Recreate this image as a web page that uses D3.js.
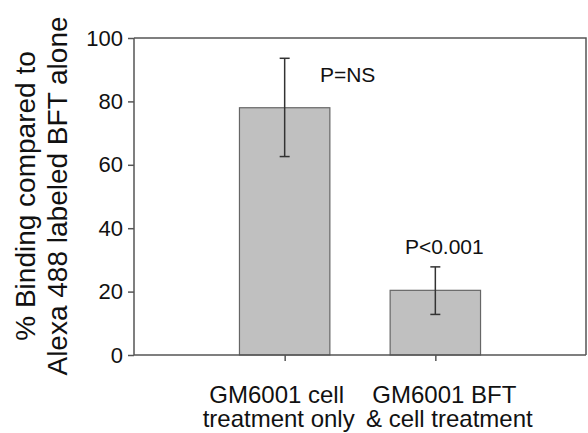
<!DOCTYPE html>
<html>
<head>
<meta charset="utf-8">
<script src="https://cdn.jsdelivr.net/npm/d3@7"></script>
<style>
body { margin: 0; background: #fff; }
text { font-family: "Liberation Sans", Arial, sans-serif; fill: #111; }
</style>
</head>
<body>
<script>
var w = 588, h = 433;
var margin = { top: 38, right: 2, bottom: 78, left: 134 };

// data
var categories = ['GM6001 cell|treatment only', 'GM6001 BFT|& cell treatment'];
var means = [78, 20.4];
var errHigh = [93.6, 27.8];
var errLow = [62.6, 12.8];
var pLabels = ['P=NS', 'P<0.001'];
var pLabelY = [86, 32];
var yTicks = [0, 20, 40, 60, 80, 100];

var svg = d3.select('body').append('svg')
    .attr('width', w)
    .attr('height', h);

var g = svg.append('g')
    .attr('transform', 'translate(' + margin.left + ',' + margin.top + ')');

var pw = w - margin.left - margin.right;
var ph = h - margin.top - margin.bottom;

var xScale = d3.scalePoint()
    .domain(categories)
    .range([0, pw])
    .padding(1);

var yScale = d3.scaleLinear()
    .domain([0, 100])
    .range([ph, 0]);

var barW = xScale.step() * 0.6;

// frame top and right
g.append('path')
    .attr('d', 'M0,0H' + pw + 'V' + ph)
    .attr('fill', 'none')
    .attr('stroke', '#555')
    .attr('stroke-width', 1.5);

// bars
g.selectAll('rect.bar')
    .data(categories)
    .enter()
    .append('rect')
    .attr('class', 'bar')
    .attr('x', function (d) { return xScale(d) - barW / 2; })
    .attr('y', function (d, i) { return yScale(means[i]); })
    .attr('width', barW)
    .attr('height', function (d, i) { return ph - yScale(means[i]); })
    .attr('fill', '#c0c0c0')
    .attr('stroke', '#666')
    .attr('stroke-width', 1.2);

// error bars
var eb = g.selectAll('g.err')
    .data(categories)
    .enter()
    .append('g')
    .attr('class', 'err')
    .attr('stroke', '#333')
    .attr('stroke-width', 1.5);

eb.append('line')
    .attr('x1', function (d) { return xScale(d); })
    .attr('x2', function (d) { return xScale(d); })
    .attr('y1', function (d, i) { return yScale(errHigh[i]); })
    .attr('y2', function (d, i) { return yScale(errLow[i]); });
eb.append('line')
    .attr('x1', function (d) { return xScale(d) - 5; })
    .attr('x2', function (d) { return xScale(d) + 5; })
    .attr('y1', function (d, i) { return yScale(errHigh[i]); })
    .attr('y2', function (d, i) { return yScale(errHigh[i]); });
eb.append('line')
    .attr('x1', function (d) { return xScale(d) - 5; })
    .attr('x2', function (d) { return xScale(d) + 5; })
    .attr('y1', function (d, i) { return yScale(errLow[i]); })
    .attr('y2', function (d, i) { return yScale(errLow[i]); });

// p labels
g.selectAll('text.p')
    .data(pLabels)
    .enter()
    .append('text')
    .attr('class', 'p')
    .attr('x', function (d, i) { return xScale(categories[i]) + (i === 0 ? 63 : 9); })
    .attr('y', function (d, i) { return yScale(pLabelY[i]); })
    .attr('text-anchor', 'middle')
    .style('font-size', '21px')
    .text(function (d) { return d; });

// Y-axis
var yAxis = d3.axisLeft(yScale)
    .tickValues(yTicks)
    .tickSize(6)
    .tickPadding(5);

var ya = g.append('g').call(yAxis);
ya.selectAll('path, line').attr('stroke', '#555').attr('stroke-width', 1.5);
ya.select('.domain').attr('d', 'M0,0V' + ph);
ya.selectAll('text')
    .style('font-size', '22px')
    .style('font-family', '"Liberation Sans", Arial, sans-serif')
    .attr('fill', '#111');

// X-axis
var xAxis = d3.axisBottom(xScale)
    .tickSize(6)
    .tickFormat('');

var xa = g.append('g')
    .attr('transform', 'translate(0,' + ph + ')')
    .call(xAxis);
xa.selectAll('path, line').attr('stroke', '#555').attr('stroke-width', 1.5);
xa.select('.domain').attr('d', 'M0,0H' + pw);

// x labels (each line nudged as in the original)
var nudge1 = [-8, 9];
var nudge2 = [-6, 14];
var xl = g.selectAll('text.xl')
    .data(categories)
    .enter()
    .append('text')
    .attr('class', 'xl')
    .attr('text-anchor', 'middle')
    .style('font-size', '24px');
xl.append('tspan')
    .attr('x', function (d, i) { return xScale(d) + nudge1[i]; })
    .attr('y', ph + 48)
    .text(function (d) { return d.split('|')[0]; });
xl.append('tspan')
    .attr('x', function (d, i) { return xScale(d) + nudge2[i]; })
    .attr('y', ph + 72)
    .text(function (d) { return d.split('|')[1]; });

// y label
var yl = svg.append('text')
    .attr('transform', 'rotate(-90)')
    .attr('text-anchor', 'middle')
    .style('font-size', '28px');
yl.append('tspan')
    .attr('x', -196)
    .attr('y', 35)
    .text('% Binding compared to');
yl.append('tspan')
    .attr('x', -196)
    .attr('y', 67)
    .text('Alexa 488 labeled BFT alone');
</script>
</body>
</html>
